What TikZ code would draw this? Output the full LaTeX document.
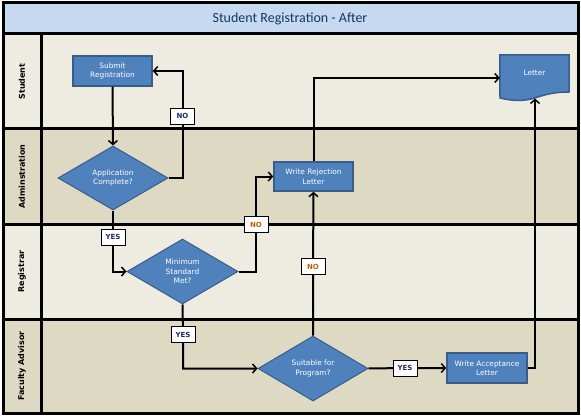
\documentclass[tikz,border=0pt]{standalone}
\usepackage{fontspec}
\setmainfont{DejaVu Sans}
\newfontfamily\titlefont{Carlito}
\usetikzlibrary{shapes.geometric,arrows.meta}
\definecolor{lanelight}{HTML}{EEECE1}
\definecolor{lanedark}{HTML}{DDD9C3}
\definecolor{titlebg}{HTML}{C6D9F1}
\definecolor{boxfill}{HTML}{4F81BD}
\definecolor{boxline}{HTML}{385D8A}
\definecolor{navy}{HTML}{1F2A5C}
\definecolor{titletext}{HTML}{17375E}
\definecolor{orng}{HTML}{B8620A}
\begin{document}
\begin{tikzpicture}[x=1pt,y=-1pt,
 procbox/.style={draw=boxline, fill=boxfill, line width=1.5pt, minimum width=79pt, minimum height=30pt, inner sep=1pt, text=white, font=\fontsize{7.4}{9.5}\selectfont, align=center},
 decbox/.style={diamond, draw=boxline, fill=boxfill, line width=1pt, minimum width=110pt, minimum height=64pt, aspect=1.72, inner sep=0pt, text=white, font=\fontsize{7.4}{9.5}\selectfont, align=center},
 lbl/.style={draw=black, fill=white, line width=0.8pt, minimum width=24pt, minimum height=16pt, inner sep=0pt, font=\bfseries\fontsize{7}{8}\selectfont},
 arr/.style={line width=2pt, -{Straight Barb[length=4pt,width=9pt,line width=1.5pt]}},
 lanetitle/.style={rotate=90, font=\bfseries\fontsize{8}{9}\selectfont},
 border/.style={line width=3pt, black}
]
\useasboundingbox (0,0) rectangle (581,417);
% lanes
\fill[titlebg] (3,3) rectangle (578,34);
\fill[lanelight] (3,34) rectangle (578,129);
\fill[lanedark] (3,129) rectangle (578,224);
\fill[lanelight] (3,224) rectangle (578,319);
\fill[lanedark] (3,319) rectangle (578,413);
\draw[border] (3,34) -- (578,34);
\draw[border] (3,129) -- (578,129);
\draw[border] (3,224) -- (578,224);
\draw[border] (3,319) -- (578,319);
\draw[border] (41,34) -- (41,413);
\draw[border] (3,3) rectangle (578,413);
\node[font=\titlefont\fontsize{14}{16}\selectfont, text=titletext] (title) at (290,18.5) {Student Registration - After};
\node[lanetitle] (lstudent) at (22,81.5) {Student};
\node[lanetitle] (ladmin) at (22,176.5) {Adminstration};
\node[lanetitle] (lreg) at (22,271.5) {Registrar};
\node[lanetitle] (lfac) at (22,366) {Faculty Advisor};
% nodes
\node[procbox] (sub) at (112.5,71) {Submit\\Registration};
\node[decbox] (app) at (113,178) {Application\\Complete?};
\node[procbox, minimum height=29pt] (rej) at (313.5,176.5) {Write Rejection\\Letter};
\node[decbox, minimum width=111pt, minimum height=65pt] (min) at (182.5,271.5) {Minimum\\Standard\\Met?};
\node[decbox, minimum height=65pt] (suit) at (313,368.5) {Suitable for\\Program?};
\node[procbox, minimum width=80pt] (acc) at (487,368) {Write Acceptance\\Letter};
\node[minimum width=69pt, minimum height=46pt, inner sep=0pt] (letter) at (534.5,78) {};
\fill[boxfill, draw=boxline, line width=1.5pt] (letter.north west) -- (letter.north east) -- (569,92) .. controls (534.5,92) and (534.5,106) .. (500,98) -- cycle;
\node[text=white, font=\fontsize{7.4}{9.5}\selectfont] (lettxt) at (534.5,73) {Letter};
\coordinate (letB) at (535,98.5);
% label positions
\coordinate (p1) at (182.5,116);
\coordinate (p2) at (113,237);
\coordinate (p3) at (256,224.5);
\coordinate (p4) at (183,334.5);
\coordinate (p5) at (313,266.5);
\coordinate (p6) at (405,368);
% connectors
\draw[arr] (sub.south) -- (app.north);
\draw[arr] (app.east) -| (p1) |- (sub.east);
\draw[arr] (app.south) -- (p2) |- (min.west);
\draw[arr] (min.east) -| (p3) |- (rej.west);
\draw[arr] (min.south) -- (p4) |- (suit.west);
\draw[arr] (suit.north) -- (p5) -- (rej.south);
\draw[arr] (rej.north) |- (letter.west);
\draw[arr] (suit.east) -- (p6) -- (acc.west);
\draw[arr] (acc.east) -- ++(8,0) -| (letB);
% labels
\node[lbl, text=navy] (no1) at (p1) {NO};
\node[lbl, text=navy] (yes1) at (p2) {YES};
\node[lbl, text=orng] (no2) at (p3) {NO};
\node[lbl, text=navy] (yes2) at (p4) {YES};
\node[lbl, text=orng] (no3) at (p5) {NO};
\node[lbl, text=navy] (yes3) at (p6) {YES};
\end{tikzpicture}
\end{document}
